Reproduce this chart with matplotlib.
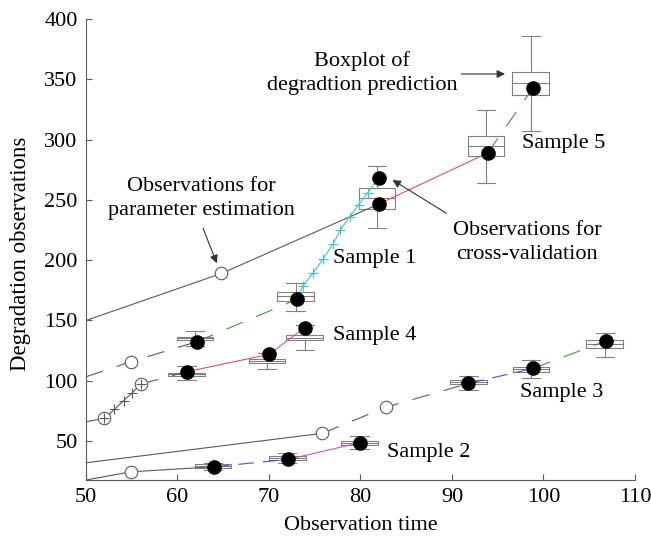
import matplotlib
matplotlib.use('Agg')
import matplotlib.pyplot as plt

plt.rcParams['font.family'] = ['Liberation Serif', 'DejaVu Serif']

GRAY = '#5a5a5a'
BOX = '#808080'
RED = '#e8505c'
GREEN = '#3f9a3f'
BLUE = '#4b4bdc'
MAGENTA = '#d24fd2'
CYAN = '#3cc6cf'
FONT = 16

# Sample 5
s5_obs_x = [50, 64.8, 82.0]
s5_obs_y = [150, 189, 246.6]
s5_circ_x = [64.8]
s5_circ_y = [189]
s5_pred_x = [82.0, 93.9, 98.85]
s5_pred_y = [246.6, 288.9, 342.8]

# Sample 1
s1_obs_x = [50, 54.9, 62.1]
s1_obs_y = [103.3, 115.8, 132.4]
s1_circ_x = [54.9]
s1_circ_y = [115.8]
s1_pred_x = [62.1, 73.06]
s1_pred_y = [132.4, 167.5]
s1_cv_x = [73.06, 73.7, 74.8, 75.9, 77.0, 77.8, 78.8, 79.8, 80.8, 82.0]
s1_cv_y = [167.5, 178.6, 189.3, 200.9, 213.4, 225, 236, 246, 256, 268.1]

# Sample 4
s4_head_x = [50, 52.0]
s4_head_y = [66, 68.8]
s4_obs_x = [52.0, 53.1, 54.1, 55.0, 56.0]
s4_obs_y = [68.8, 76.3, 83.4, 89.6, 97.3]
s4_circ_x = [52.0, 56.0]
s4_circ_y = [68.8, 97.3]
s4_gap_x = [56.0, 61.0]
s4_gap_y = [97.3, 107.5]
s4_pred_x = [61.0, 70.0, 73.9]
s4_pred_y = [107.5, 121.9, 144.0]

# Sample 2
s2_obs_x = [50, 54.9, 64.0]
s2_obs_y = [17.7, 24.5, 28.7]
s2_circ_x = [54.9]
s2_circ_y = [24.5]
s2_pred_x = [64.0, 72.1, 79.9]
s2_pred_y = [28.7, 34.8, 48.6]

# Sample 3
s3_obs_x = [50, 75.8]
s3_obs_y = [32, 56.4]
s3_gap_x = [75.8, 82.75, 91.8]
s3_gap_y = [56.4, 78, 97.8]
s3_circ_x = [75.8, 82.75]
s3_circ_y = [56.4, 78]
s3_pred_x = [91.8, 98.9, 106.8]
s3_pred_y = [97.8, 110.3, 133.0]

# boxplots of predictions: position, q1, median, q3, lower whisker, upper whisker
box_pos = [81.8, 93.7, 98.6, 61.9, 72.9, 61.0, 69.8, 73.9, 63.9, 72.0, 79.9, 91.8, 98.65, 106.7]
box_q1 = [242.4, 286.4, 337, 133.8, 166.1, 103.9, 114.4, 133.8, 27.5, 34.3, 46.7, 97.3, 107.5, 126.9]
box_med = [251.5, 294.7, 346.9, 135.2, 170.5, 105.3, 116.0, 135.5, 29.0, 36.0, 48.3, 99.0, 109.5, 130.5]
box_q3 = [259.8, 303, 356, 136.5, 173.6, 106.6, 117.8, 137.9, 30.8, 37.6, 50.0, 100.6, 111.6, 133.8]
box_lo = [226.7, 264.2, 307.1, 128.8, 157.8, 100.6, 109.5, 125.5, 26.0, 32.0, 43.4, 92.3, 102.0, 119.9]
box_hi = [278.1, 324.5, 386.1, 141.2, 181, 112.2, 123.2, 146.2, 32.0, 39.8, 54.1, 103.9, 117.2, 139.3]

# black dots: predicted / cross-validation observations
dot_x = s5_pred_x + s1_pred_x + [s1_cv_x[-1]] + s4_pred_x + s2_pred_x + s3_pred_x
dot_y = s5_pred_y + s1_pred_y + [s1_cv_y[-1]] + s4_pred_y + s2_pred_y + s3_pred_y


def seg(ax, x, y, color, dashed=False, dashes=(16, 13), **kw):
    if dashed:
        ax.plot(x, y, color=color, lw=0.8, dashes=dashes, zorder=2, **kw)
    else:
        ax.plot(x, y, color=color, lw=0.8, zorder=2, **kw)


fig = plt.figure(figsize=(6.51, 5.37), dpi=100)
ax = fig.add_axes([0.1321, 0.1061, 0.8433, 0.8585])

# boxplots
stats = [dict(med=m, q1=a, q3=b, whislo=lo, whishi=hi, fliers=[])
         for m, a, b, lo, hi in zip(box_med, box_q1, box_q3, box_lo, box_hi)]
gp = dict(color=BOX, linewidth=0.8)
ax.bxp(stats, positions=box_pos, widths=4, showfliers=False, manage_ticks=False,
       boxprops=gp, medianprops=gp, whiskerprops=dict(color=BOX, linewidth=0.8, linestyle='-'),
       capprops=gp, zorder=1)

# sample 5
seg(ax, s5_obs_x, s5_obs_y, GRAY)
seg(ax, s5_pred_x[:2], s5_pred_y[:2], RED)
seg(ax, s5_pred_x[1:], s5_pred_y[1:], GREEN, dashed=True)

# sample 1
seg(ax, s1_obs_x, s1_obs_y, GRAY, dashed=True)
seg(ax, s1_pred_x, s1_pred_y, GREEN, dashed=True)
ax.plot(s1_cv_x, s1_cv_y, color=CYAN, lw=0.8, zorder=2)
ax.plot(s1_cv_x[1:-1], s1_cv_y[1:-1], ls='none', marker='+', ms=7, mew=0.8, color=CYAN, zorder=2)

# sample 4
seg(ax, s4_head_x, s4_head_y, GRAY, dashed=True)
ax.plot(s4_obs_x, s4_obs_y, color=GRAY, lw=0.8, marker='+', ms=7, mew=0.8, zorder=2)
seg(ax, s4_gap_x, s4_gap_y, GRAY, dashed=True)
seg(ax, s4_pred_x[:2], s4_pred_y[:2], RED)
seg(ax, s4_pred_x[1:], s4_pred_y[1:], MAGENTA)

# sample 2
seg(ax, s2_obs_x, s2_obs_y, GRAY)
seg(ax, s2_pred_x[:2], s2_pred_y[:2], BLUE, dashed=True, dashes=(14, 8))
seg(ax, s2_pred_x[1:], s2_pred_y[1:], MAGENTA)

# sample 3
seg(ax, s3_obs_x, s3_obs_y, GRAY)
seg(ax, s3_gap_x, s3_gap_y, GRAY, dashed=True)
seg(ax, s3_pred_x[:2], s3_pred_y[:2], BLUE, dashed=True, dashes=(14, 8))
seg(ax, s3_pred_x[1:], s3_pred_y[1:], GREEN, dashed=True)

# observation circles
circ_x = s5_circ_x + s1_circ_x + s4_circ_x + s2_circ_x + s3_circ_x
circ_y = s5_circ_y + s1_circ_y + s4_circ_y + s2_circ_y + s3_circ_y
ax.plot(circ_x, circ_y, ls='none', marker='o', ms=9, mfc='white', mec=GRAY, mew=0.8, zorder=3)
ax.plot(s4_circ_x, s4_circ_y, ls='none', marker='+', ms=7, mew=0.8, color=GRAY, zorder=4)

# predicted dots
ax.plot(dot_x, dot_y, ls='none', marker='o', ms=9.5, color='black', zorder=5)

# annotations
arrow = dict(arrowstyle='-|>', color='#333333', lw=0.8, mutation_scale=12, shrinkA=0, shrinkB=0)
ax.annotate('', xy=(95.8, 354.4), xytext=(91.0, 354.4), arrowprops=arrow)
ax.annotate('', xy=(64.3, 197.4), xytext=(62.8, 226.4), arrowprops=arrow)
ax.annotate('', xy=(83.5, 266.5), xytext=(89.4, 238.9), arrowprops=arrow)

ax.text(80.2, 355.2, 'Boxplot of\ndegradtion prediction', ha='center', va='center',
        fontsize=FONT, linespacing=1.35)
ax.text(62.6, 251.1, 'Observations for\nparameter estimation', ha='center', va='center',
        fontsize=FONT, linespacing=1.35)
ax.text(98.2, 214.6, 'Observations for\ncross-validation', ha='center', va='center',
        fontsize=FONT, linespacing=1.35)

ax.text(97.6, 296.9, 'Sample 5', ha='left', va='center', fontsize=FONT)
ax.text(77.0, 201.5, 'Sample 1', ha='left', va='center', fontsize=FONT)
ax.text(77.0, 137.9, 'Sample 4', ha='left', va='center', fontsize=FONT)
ax.text(97.4, 90.4, 'Sample 3', ha='left', va='center', fontsize=FONT)
ax.text(82.9, 40.3, 'Sample 2', ha='left', va='center', fontsize=FONT)

ax.set_xlim(50, 110)
ax.set_ylim(17.7, 400)
ax.set_xticks(range(50, 111, 10))
ax.set_yticks(range(50, 401, 50))
ax.tick_params(direction='in', length=4, width=0.8, color=GRAY, labelsize=FONT, pad=6)
for side in ['top', 'right']:
    ax.spines[side].set_visible(False)
for side in ['left', 'bottom']:
    ax.spines[side].set_color(GRAY)
    ax.spines[side].set_linewidth(0.8)

ax.set_xlabel('Observation time', fontsize=FONT, labelpad=6)
ax.set_ylabel('Degradation observations', fontsize=16.5)
ax.yaxis.set_label_coords(-0.1, 0.49)

fig.savefig('out.png', dpi=100)
